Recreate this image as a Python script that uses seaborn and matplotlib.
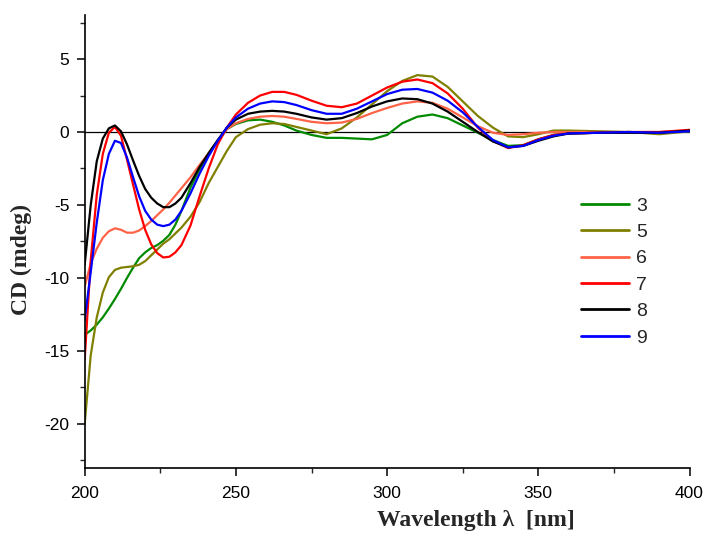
import matplotlib
matplotlib.use("Agg")
import matplotlib.pyplot as plt
from matplotlib.ticker import MultipleLocator
import seaborn as sns
import pandas as pd

# wavelength grid (nm)
wavelength = [200, 202, 204, 206, 208, 210, 212, 214, 216, 218, 220, 222, 224, 226, 228,
              230, 232, 235, 238, 241, 244, 247, 250, 254, 258, 262, 266, 270, 275, 280,
              285, 290, 295, 300, 305, 310, 315, 320, 325, 330, 335, 340, 345, 350, 355,
              360, 370, 380, 390, 400]

# CD signal (mdeg) per compound
cd_3 = [-13.9, -13.6, -13.2, -12.7, -12.1, -11.45, -10.75, -10.0, -9.3, -8.65, -8.25, -7.95,
        -7.75, -7.45, -7.05, -6.35, -5.4, -3.8, -2.55, -1.45, -0.6, 0.2, 0.55, 0.8, 0.85,
        0.7, 0.45, 0.1, -0.2, -0.4, -0.4, -0.45, -0.5, -0.2, 0.6, 1.05, 1.2, 0.95, 0.45,
        -0.05, -0.55, -0.95, -0.9, -0.5, -0.2, -0.1, -0.05, 0.0, -0.05, 0.05]
cd_5 = [-20.0, -15.3, -12.7, -11.0, -9.95, -9.45, -9.3, -9.25, -9.2, -9.1, -8.85, -8.45,
        -8.05, -7.65, -7.35, -6.95, -6.55, -5.8, -4.8, -3.5, -2.4, -1.3, -0.35, 0.2, 0.5,
        0.6, 0.55, 0.35, 0.1, -0.15, 0.25, 1.0, 1.9, 2.8, 3.5, 3.9, 3.8, 3.1, 2.1, 1.1,
        0.3, -0.3, -0.35, -0.15, 0.1, 0.1, 0.05, 0.0, -0.15, 0.05]
cd_6 = [-10.6, -9.0, -8.0, -7.25, -6.8, -6.6, -6.7, -6.9, -6.9, -6.75, -6.45, -6.1, -5.7,
        -5.3, -4.85, -4.35, -3.85, -3.1, -2.25, -1.45, -0.6, 0.2, 0.6, 0.9, 1.05, 1.1,
        1.05, 0.9, 0.7, 0.6, 0.65, 0.9, 1.3, 1.65, 1.95, 2.1, 2.0, 1.6, 1.0, 0.4, -0.05,
        -0.2, -0.15, -0.05, 0.0, 0.0, 0.0, 0.0, 0.0, 0.1]
cd_7 = [-15.6, -8.8, -4.3, -1.5, -0.05, 0.35, -0.25, -1.9, -3.6, -5.3, -6.7, -7.7, -8.3,
        -8.6, -8.55, -8.25, -7.75, -6.4, -4.4, -2.5, -0.85, 0.3, 1.2, 2.0, 2.5, 2.75,
        2.75, 2.55, 2.15, 1.8, 1.7, 1.95, 2.5, 3.05, 3.45, 3.6, 3.35, 2.65, 1.6, 0.3,
        -0.6, -1.1, -0.9, -0.5, -0.2, -0.1, -0.05, 0.0, 0.0, 0.15]
cd_8 = [-9.1, -5.0, -2.0, -0.45, 0.25, 0.45, 0.05, -0.85, -1.95, -3.0, -3.9, -4.5, -4.9,
        -5.15, -5.15, -4.9, -4.5, -3.5, -2.4, -1.45, -0.55, 0.3, 0.85, 1.25, 1.4, 1.45,
        1.4, 1.25, 1.0, 0.85, 0.95, 1.3, 1.75, 2.1, 2.3, 2.25, 1.95, 1.4, 0.7, 0.0,
        -0.65, -1.05, -0.95, -0.6, -0.3, -0.1, -0.05, -0.05, -0.05, 0.1]
cd_9 = [-12.9, -9.6, -6.2, -3.3, -1.5, -0.6, -0.75, -1.75, -3.1, -4.4, -5.4, -6.0, -6.35,
        -6.45, -6.35, -6.0, -5.4, -4.2, -2.85, -1.65, -0.6, 0.3, 1.0, 1.6, 1.95, 2.1,
        2.05, 1.85, 1.5, 1.25, 1.25, 1.6, 2.1, 2.6, 2.9, 2.95, 2.7, 2.15, 1.35, 0.35,
        -0.55, -1.05, -0.95, -0.55, -0.25, -0.1, -0.05, 0.0, -0.05, 0.05]

labels = ["3", "5", "6", "7", "8", "9"]
colors = ["#008a00", "#808000", "#ff6347", "#ff0000", "#000000", "#0000ff"]

series = [cd_3, cd_5, cd_6, cd_7, cd_8, cd_9]
frames = []
for lab, vals in zip(labels, series):
    frames.append(pd.DataFrame({"wl": wavelength, "cd": vals, "compound": lab}))
df = pd.concat(frames, ignore_index=True)

sns.set_style("ticks")
plt.rcParams["font.family"] = ["Liberation Sans", "DejaVu Sans"]
plt.rcParams["axes.unicode_minus"] = False

fig = plt.figure(figsize=(7.05, 5.33), dpi=100)
ax = fig.add_axes([0.1201, 0.1227, 0.8580, 0.8486])

ax.axhline(0, color="black", lw=0.9, zorder=1)
sns.lineplot(data=df, x="wl", y="cd", hue="compound", hue_order=labels,
             palette=dict(zip(labels, colors)), linewidth=1.6, ax=ax, zorder=2)

ax.set_xlim(200, 400)
ax.set_ylim(-23, 8)
ax.xaxis.set_major_locator(MultipleLocator(50))
ax.xaxis.set_minor_locator(MultipleLocator(25))
ax.yaxis.set_major_locator(MultipleLocator(5))
ax.yaxis.set_minor_locator(MultipleLocator(2.5))

for s in ["top", "right"]:
    ax.spines[s].set_visible(False)
for s in ["left", "bottom"]:
    ax.spines[s].set_linewidth(1.2)
    ax.spines[s].set_color("black")

ax.tick_params(which="major", direction="out", length=6, width=1.1, labelsize=12.5,
               colors="black")
ax.tick_params(which="minor", direction="out", length=3.5, width=1.0)
ax.tick_params(axis="x", which="major", pad=7)
ax.tick_params(axis="y", which="major", pad=5)

ax.set_xlabel("Wavelength λ  [nm]", fontsize=17, fontweight="bold",
              family=["Liberation Serif", "DejaVu Serif"])
ax.set_ylabel("CD (mdeg)", fontsize=17, fontweight="bold",
              family=["Liberation Serif", "DejaVu Serif"])
ax.xaxis.set_label_coords(0.647, -0.094)
ax.yaxis.set_label_coords(-0.087, 0.459)

leg = ax.legend(loc="upper left", bbox_to_anchor=(0.82, 0.598), frameon=False,
                fontsize=14, handlelength=2.5, handletextpad=0.35,
                labelspacing=0.45, borderpad=0, borderaxespad=0)
for line in leg.get_lines():
    line.set_linewidth(2.0)

fig.savefig("out.png", dpi=100)
